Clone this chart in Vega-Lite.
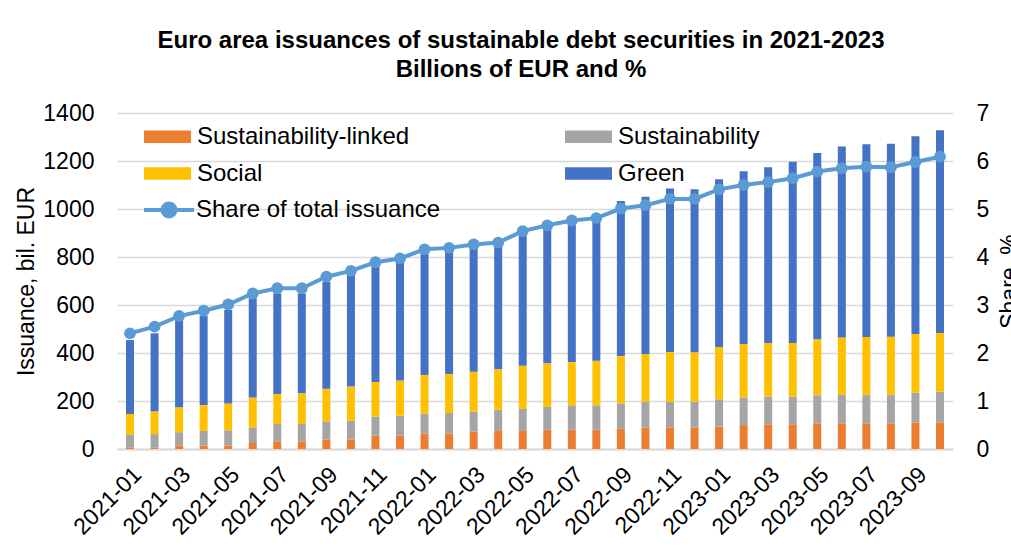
{
  "$schema": "https://vega.github.io/schema/vega-lite/v6.json",
  "width": 836,
  "height": 336,
  "autosize": {"type": "none"},
  "padding": {"left": 117, "top": 113, "right": 58, "bottom": 98},
  "background": "white",
  "config": {
    "font": "Liberation Sans",
    "view": {"stroke": null},
    "axis": {"labelFont": "Liberation Sans", "titleFont": "Liberation Sans", "labelColor": "#000000", "titleColor": "#000000", "titleFontWeight": "normal"},
    "legend": {"labelFont": "Liberation Sans", "labelColor": "#000000"}
  },
  "title": {
    "text": ["Euro area issuances of sustainable debt securities in 2021-2023", "Billions of EUR and %"],
    "font": "Liberation Sans",
    "fontSize": 24,
    "fontWeight": "bold",
    "lineHeight": 29,
    "anchor": "middle",
    "dx": -14,
    "offset": 20,
    "color": "#000000"
  },
  "datasets": {
    "bars": [
      {"month": "2021-01", "type": "Sustainability-linked", "value": 5}, {"month": "2021-01", "type": "Sustainability", "value": 55}, {"month": "2021-01", "type": "Social", "value": 86}, {"month": "2021-01", "type": "Green", "value": 308},
      {"month": "2021-02", "type": "Sustainability-linked", "value": 5}, {"month": "2021-02", "type": "Sustainability", "value": 57}, {"month": "2021-02", "type": "Social", "value": 95}, {"month": "2021-02", "type": "Green", "value": 325},
      {"month": "2021-03", "type": "Sustainability-linked", "value": 15}, {"month": "2021-03", "type": "Sustainability", "value": 55}, {"month": "2021-03", "type": "Social", "value": 104}, {"month": "2021-03", "type": "Green", "value": 363},
      {"month": "2021-04", "type": "Sustainability-linked", "value": 15}, {"month": "2021-04", "type": "Sustainability", "value": 60}, {"month": "2021-04", "type": "Social", "value": 108}, {"month": "2021-04", "type": "Green", "value": 371},
      {"month": "2021-05", "type": "Sustainability-linked", "value": 15}, {"month": "2021-05", "type": "Sustainability", "value": 63}, {"month": "2021-05", "type": "Social", "value": 112}, {"month": "2021-05", "type": "Green", "value": 389},
      {"month": "2021-06", "type": "Sustainability-linked", "value": 25}, {"month": "2021-06", "type": "Sustainability", "value": 65}, {"month": "2021-06", "type": "Social", "value": 125}, {"month": "2021-06", "type": "Green", "value": 413},
      {"month": "2021-07", "type": "Sustainability-linked", "value": 32}, {"month": "2021-07", "type": "Sustainability", "value": 72}, {"month": "2021-07", "type": "Social", "value": 125}, {"month": "2021-07", "type": "Green", "value": 419},
      {"month": "2021-08", "type": "Sustainability-linked", "value": 32}, {"month": "2021-08", "type": "Sustainability", "value": 72}, {"month": "2021-08", "type": "Social", "value": 128}, {"month": "2021-08", "type": "Green", "value": 416},
      {"month": "2021-09", "type": "Sustainability-linked", "value": 40}, {"month": "2021-09", "type": "Sustainability", "value": 75}, {"month": "2021-09", "type": "Social", "value": 136}, {"month": "2021-09", "type": "Green", "value": 446},
      {"month": "2021-10", "type": "Sustainability-linked", "value": 40}, {"month": "2021-10", "type": "Sustainability", "value": 78}, {"month": "2021-10", "type": "Social", "value": 142}, {"month": "2021-10", "type": "Green", "value": 465},
      {"month": "2021-11", "type": "Sustainability-linked", "value": 55}, {"month": "2021-11", "type": "Sustainability", "value": 80}, {"month": "2021-11", "type": "Social", "value": 144}, {"month": "2021-11", "type": "Green", "value": 481},
      {"month": "2021-12", "type": "Sustainability-linked", "value": 55}, {"month": "2021-12", "type": "Sustainability", "value": 84}, {"month": "2021-12", "type": "Social", "value": 146}, {"month": "2021-12", "type": "Green", "value": 505},
      {"month": "2022-01", "type": "Sustainability-linked", "value": 65}, {"month": "2022-01", "type": "Sustainability", "value": 83}, {"month": "2022-01", "type": "Social", "value": 160}, {"month": "2022-01", "type": "Green", "value": 514},
      {"month": "2022-02", "type": "Sustainability-linked", "value": 65}, {"month": "2022-02", "type": "Sustainability", "value": 85}, {"month": "2022-02", "type": "Social", "value": 162}, {"month": "2022-02", "type": "Green", "value": 517},
      {"month": "2022-03", "type": "Sustainability-linked", "value": 72}, {"month": "2022-03", "type": "Sustainability", "value": 84}, {"month": "2022-03", "type": "Social", "value": 166}, {"month": "2022-03", "type": "Green", "value": 521},
      {"month": "2022-04", "type": "Sustainability-linked", "value": 75}, {"month": "2022-04", "type": "Sustainability", "value": 89}, {"month": "2022-04", "type": "Social", "value": 168}, {"month": "2022-04", "type": "Green", "value": 522},
      {"month": "2022-05", "type": "Sustainability-linked", "value": 75}, {"month": "2022-05", "type": "Sustainability", "value": 92}, {"month": "2022-05", "type": "Social", "value": 180}, {"month": "2022-05", "type": "Green", "value": 551},
      {"month": "2022-06", "type": "Sustainability-linked", "value": 80}, {"month": "2022-06", "type": "Sustainability", "value": 96}, {"month": "2022-06", "type": "Social", "value": 181}, {"month": "2022-06", "type": "Green", "value": 569},
      {"month": "2022-07", "type": "Sustainability-linked", "value": 80}, {"month": "2022-07", "type": "Sustainability", "value": 102}, {"month": "2022-07", "type": "Social", "value": 180}, {"month": "2022-07", "type": "Green", "value": 581},
      {"month": "2022-08", "type": "Sustainability-linked", "value": 80}, {"month": "2022-08", "type": "Sustainability", "value": 102}, {"month": "2022-08", "type": "Social", "value": 186}, {"month": "2022-08", "type": "Green", "value": 583},
      {"month": "2022-09", "type": "Sustainability-linked", "value": 86}, {"month": "2022-09", "type": "Sustainability", "value": 104}, {"month": "2022-09", "type": "Social", "value": 197}, {"month": "2022-09", "type": "Green", "value": 646},
      {"month": "2022-10", "type": "Sustainability-linked", "value": 90}, {"month": "2022-10", "type": "Sustainability", "value": 107}, {"month": "2022-10", "type": "Social", "value": 199}, {"month": "2022-10", "type": "Green", "value": 655},
      {"month": "2022-11", "type": "Sustainability-linked", "value": 90}, {"month": "2022-11", "type": "Sustainability", "value": 107}, {"month": "2022-11", "type": "Social", "value": 207}, {"month": "2022-11", "type": "Green", "value": 681},
      {"month": "2022-12", "type": "Sustainability-linked", "value": 90}, {"month": "2022-12", "type": "Sustainability", "value": 107}, {"month": "2022-12", "type": "Social", "value": 206}, {"month": "2022-12", "type": "Green", "value": 679},
      {"month": "2023-01", "type": "Sustainability-linked", "value": 93}, {"month": "2023-01", "type": "Sustainability", "value": 114}, {"month": "2023-01", "type": "Social", "value": 218}, {"month": "2023-01", "type": "Green", "value": 699},
      {"month": "2023-02", "type": "Sustainability-linked", "value": 100}, {"month": "2023-02", "type": "Sustainability", "value": 115}, {"month": "2023-02", "type": "Social", "value": 222}, {"month": "2023-02", "type": "Green", "value": 720},
      {"month": "2023-03", "type": "Sustainability-linked", "value": 103}, {"month": "2023-03", "type": "Sustainability", "value": 115}, {"month": "2023-03", "type": "Social", "value": 224}, {"month": "2023-03", "type": "Green", "value": 732},
      {"month": "2023-04", "type": "Sustainability-linked", "value": 103}, {"month": "2023-04", "type": "Sustainability", "value": 115}, {"month": "2023-04", "type": "Social", "value": 224}, {"month": "2023-04", "type": "Green", "value": 755},
      {"month": "2023-05", "type": "Sustainability-linked", "value": 107}, {"month": "2023-05", "type": "Sustainability", "value": 117}, {"month": "2023-05", "type": "Social", "value": 233}, {"month": "2023-05", "type": "Green", "value": 776},
      {"month": "2023-06", "type": "Sustainability-linked", "value": 107}, {"month": "2023-06", "type": "Sustainability", "value": 119}, {"month": "2023-06", "type": "Social", "value": 239}, {"month": "2023-06", "type": "Green", "value": 795},
      {"month": "2023-07", "type": "Sustainability-linked", "value": 107}, {"month": "2023-07", "type": "Sustainability", "value": 119}, {"month": "2023-07", "type": "Social", "value": 241}, {"month": "2023-07", "type": "Green", "value": 803},
      {"month": "2023-08", "type": "Sustainability-linked", "value": 107}, {"month": "2023-08", "type": "Sustainability", "value": 119}, {"month": "2023-08", "type": "Social", "value": 242}, {"month": "2023-08", "type": "Green", "value": 804},
      {"month": "2023-09", "type": "Sustainability-linked", "value": 110}, {"month": "2023-09", "type": "Sustainability", "value": 125}, {"month": "2023-09", "type": "Social", "value": 244}, {"month": "2023-09", "type": "Green", "value": 824},
      {"month": "2023-10", "type": "Sustainability-linked", "value": 111}, {"month": "2023-10", "type": "Sustainability", "value": 128}, {"month": "2023-10", "type": "Social", "value": 244}, {"month": "2023-10", "type": "Green", "value": 845}
    ],
    "share": [
      {"month": "2021-01", "series": "Share of total issuance", "share": 2.41},
      {"month": "2021-02", "series": "Share of total issuance", "share": 2.55},
      {"month": "2021-03", "series": "Share of total issuance", "share": 2.77},
      {"month": "2021-04", "series": "Share of total issuance", "share": 2.88},
      {"month": "2021-05", "series": "Share of total issuance", "share": 3.01},
      {"month": "2021-06", "series": "Share of total issuance", "share": 3.24},
      {"month": "2021-07", "series": "Share of total issuance", "share": 3.35},
      {"month": "2021-08", "series": "Share of total issuance", "share": 3.35},
      {"month": "2021-09", "series": "Share of total issuance", "share": 3.59},
      {"month": "2021-10", "series": "Share of total issuance", "share": 3.71},
      {"month": "2021-11", "series": "Share of total issuance", "share": 3.89},
      {"month": "2021-12", "series": "Share of total issuance", "share": 3.97},
      {"month": "2022-01", "series": "Share of total issuance", "share": 4.16},
      {"month": "2022-02", "series": "Share of total issuance", "share": 4.19},
      {"month": "2022-03", "series": "Share of total issuance", "share": 4.26},
      {"month": "2022-04", "series": "Share of total issuance", "share": 4.30},
      {"month": "2022-05", "series": "Share of total issuance", "share": 4.54},
      {"month": "2022-06", "series": "Share of total issuance", "share": 4.66},
      {"month": "2022-07", "series": "Share of total issuance", "share": 4.76},
      {"month": "2022-08", "series": "Share of total issuance", "share": 4.81},
      {"month": "2022-09", "series": "Share of total issuance", "share": 5.01},
      {"month": "2022-10", "series": "Share of total issuance", "share": 5.08},
      {"month": "2022-11", "series": "Share of total issuance", "share": 5.21},
      {"month": "2022-12", "series": "Share of total issuance", "share": 5.21},
      {"month": "2023-01", "series": "Share of total issuance", "share": 5.41},
      {"month": "2023-02", "series": "Share of total issuance", "share": 5.50},
      {"month": "2023-03", "series": "Share of total issuance", "share": 5.56},
      {"month": "2023-04", "series": "Share of total issuance", "share": 5.64},
      {"month": "2023-05", "series": "Share of total issuance", "share": 5.78},
      {"month": "2023-06", "series": "Share of total issuance", "share": 5.85},
      {"month": "2023-07", "series": "Share of total issuance", "share": 5.88},
      {"month": "2023-08", "series": "Share of total issuance", "share": 5.87},
      {"month": "2023-09", "series": "Share of total issuance", "share": 5.98},
      {"month": "2023-10", "series": "Share of total issuance", "share": 6.09}
    ]
  },
  "encoding": {
    "x": {
      "field": "month",
      "type": "ordinal",
      "scale": {"paddingInner": 0, "paddingOuter": 0.03},
      "axis": {
        "title": null,
        "values": ["2021-01", "2021-03", "2021-05", "2021-07", "2021-09", "2021-11", "2022-01", "2022-03", "2022-05", "2022-07", "2022-09", "2022-11", "2023-01", "2023-03", "2023-05", "2023-07", "2023-09"],
        "labelAngle": -45,
        "labelFontSize": 23,
        "labelPadding": 14,
        "ticks": false,
        "domainColor": "#D9D9D9",
        "domainWidth": 2,
        "grid": false
      }
    }
  },
  "layer": [
    {
      "data": {"name": "bars"},
      "mark": {"type": "bar", "size": 8},
      "encoding": {
        "y": {
          "field": "value",
          "type": "quantitative",
          "aggregate": "sum",
          "stack": "zero",
          "scale": {"domain": [0, 1400]},
          "axis": {
            "title": "Issuance, bil. EUR",
            "titleFontSize": 23,
            "titlePadding": 4,
            "labelFontSize": 23,
            "labelPadding": 23,
            "format": "d",
            "values": [0, 200, 400, 600, 800, 1000, 1200, 1400],
            "ticks": false,
            "domain": false,
            "grid": true,
            "gridColor": "#D9D9D9",
            "gridWidth": 1.5
          }
        },
        "color": {
          "field": "type",
          "type": "nominal",
          "sort": ["Sustainability-linked", "Sustainability", "Social", "Green"],
          "scale": {"domain": ["Sustainability-linked", "Social", "Sustainability", "Green"], "range": ["#ED7D31", "#FFC000", "#A5A5A5", "#4472C4"]},
          "legend": {
            "title": null,
            "orient": "none",
            "legendX": 27,
            "legendY": 0,
            "columns": 2,
            "columnPadding": 155,
            "rowPadding": 1,
            "padding": 0,
            "symbolType": "M-1,-0.27H1V0.27H-1Z",
            "symbolSize": 2209,
            "symbolStrokeWidth": 0,
            "labelFontSize": 24,
            "labelOffset": 6,
            "labelLimit": 400
          }
        }
      }
    },
    {
      "data": {"name": "share"},
      "mark": {"type": "line", "strokeWidth": 4},
      "encoding": {
        "y": {"field": "share", "type": "quantitative", "scale": {"domain": [0, 7]}, "axis": {
          "title": "Share, %",
          "orient": "right",
          "titleAngle": -90,
          "titleFontSize": 23,
          "titlePadding": 33,
          "labelFontSize": 23,
          "labelPadding": 23,
          "values": [0, 1, 2, 3, 4, 5, 6, 7],
          "ticks": false,
          "domain": false,
          "grid": false
        }},
        "stroke": {
          "field": "series",
          "type": "nominal",
          "scale": {"range": ["#5B9BD5"]},
          "legend": {
            "title": null,
            "orient": "none",
            "legendX": 25,
            "legendY": 70,
            "padding": 0,
            "symbolType": "M-1,0H1M-0.26,0A0.26,0.26 0 1,1 0.26,0A0.26,0.26 0 1,1 -0.26,0Z",
            "symbolSize": 2500,
            "labelFontSize": 24,
            "labelOffset": 0,
            "labelLimit": 400,
            "encode": {"symbols": {"update": {"fill": {"value": "#5B9BD5"}, "stroke": {"value": "#5B9BD5"}, "strokeWidth": {"value": 4}}}}
          }
        }
      }
    },
    {
      "data": {"name": "share"},
      "mark": {"type": "point", "filled": true, "size": 140, "opacity": 1, "color": "#5B9BD5"},
      "encoding": {
        "y": {"field": "share", "type": "quantitative", "scale": {"domain": [0, 7]}, "axis": null}
      }
    }
  ],
  "resolve": {"scale": {"y": "independent"}}
}
